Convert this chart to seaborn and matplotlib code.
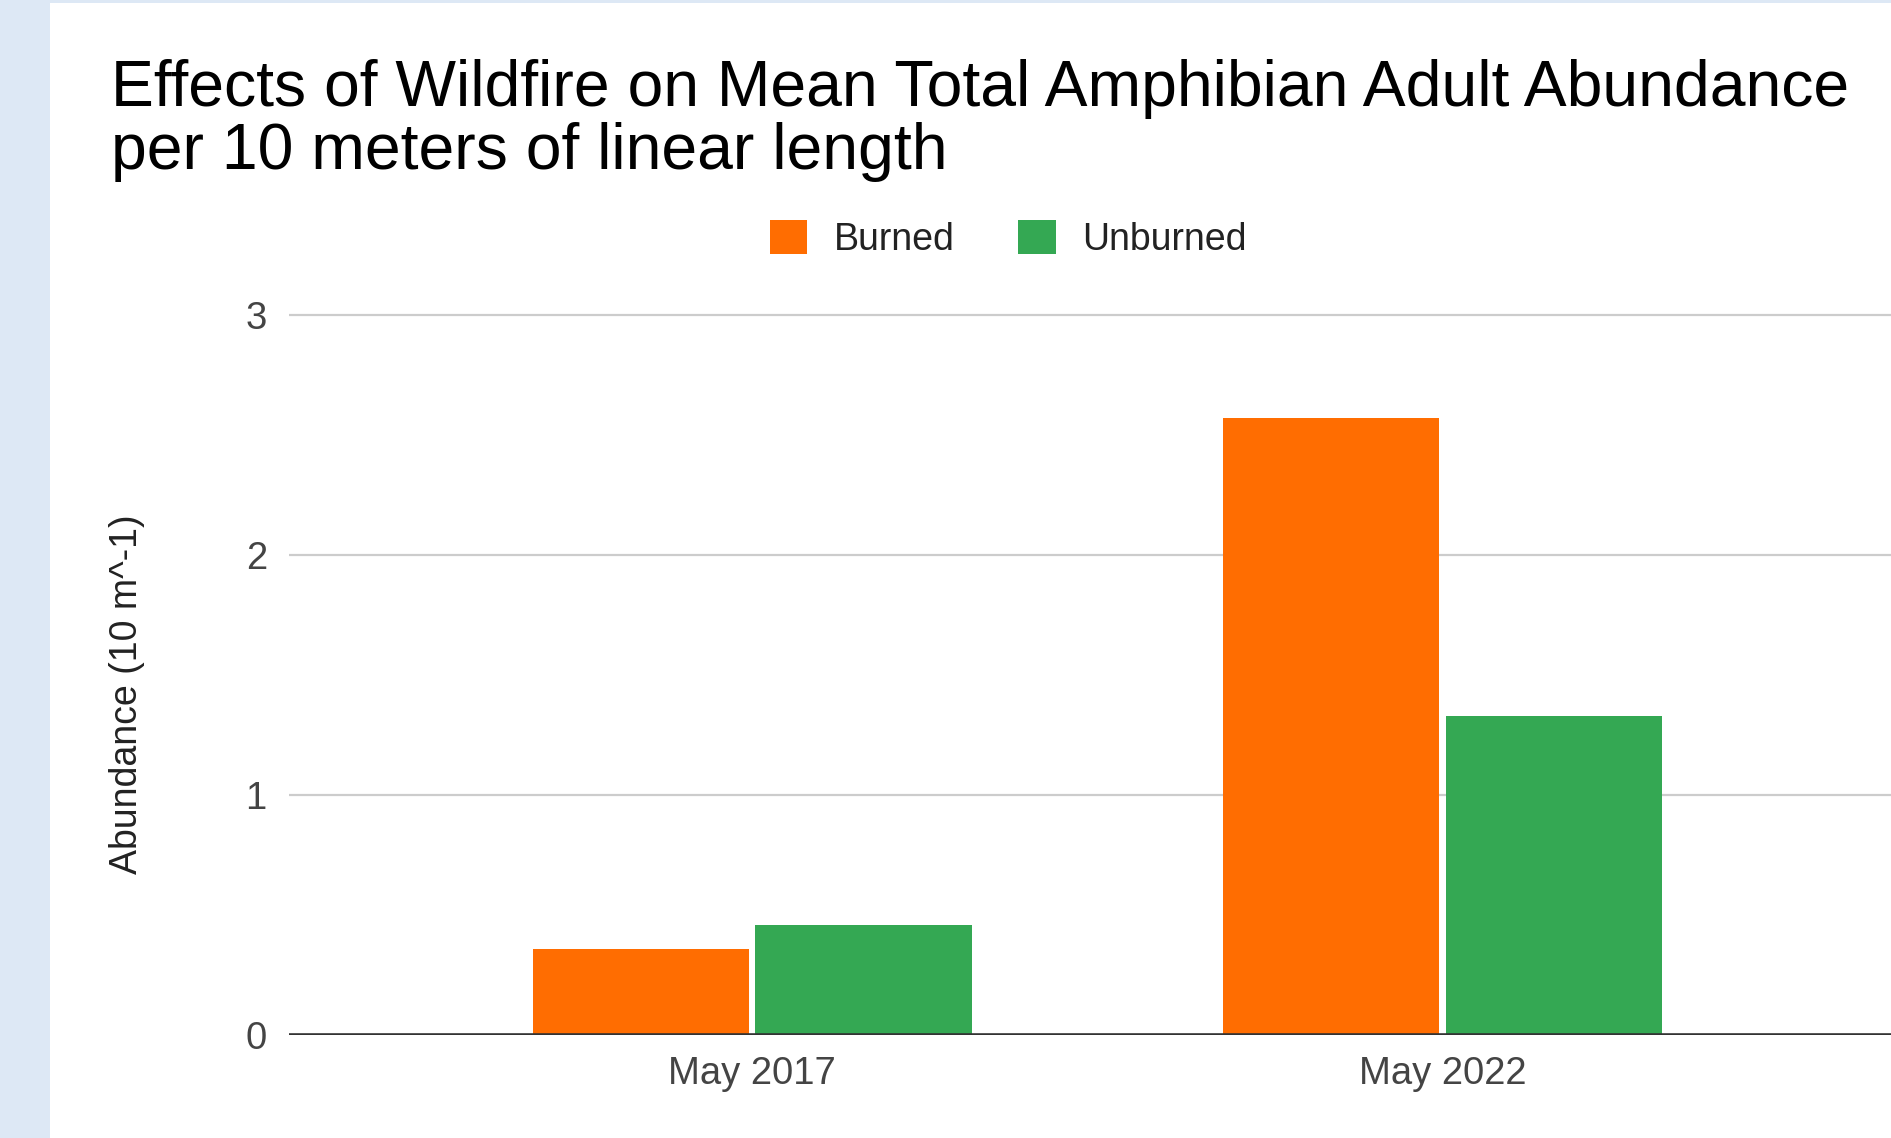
import matplotlib
matplotlib.use("Agg")
import matplotlib.pyplot as plt
import seaborn as sns
import pandas as pd
from matplotlib.patches import Patch, Rectangle

# ---- data ----
periods = ["May 2017", "May 2022"]
series_names = ["Burned", "Unburned"]
burned = [0.36, 2.57]
unburned = [0.46, 1.33]
yticks = [0, 1, 2, 3]
colors = ["#FF6D01", "#34A853"]

title_line1 = "Effects of Wildfire on Mean Total Amphibian Adult Abundance"
title_line2 = "per 10 meters of linear length"
ylabel = "Abundance (10 m^-1)"

df = pd.DataFrame({
    "period": periods * 2,
    "series": [series_names[0]] * len(periods) + [series_names[1]] * len(periods),
    "value": burned + unburned,
})

sns.set_theme(style="white")
plt.rcParams["font.family"] = ["Liberation Sans", "DejaVu Sans"]

W, H = 1891, 1138
fig = plt.figure(figsize=(W / 100, H / 100), dpi=100)
fig.patch.set_facecolor("white")

# page background strips
fig.add_artist(Rectangle((0, 0), 50 / W, 1, transform=fig.transFigure,
                         facecolor="#dde8f5", edgecolor="none", zorder=0))
fig.add_artist(Rectangle((0, 1 - 3 / H), 1, 3 / H, transform=fig.transFigure,
                         facecolor="#dde8f5", edgecolor="none", zorder=0))

ytop = 3.03
ax_left = 289 / W
ax_bottom = (H - 1035) / H
ax_h = 720 * (ytop / 3) / H
ax = fig.add_axes([ax_left, ax_bottom, 1 - ax_left, ax_h])
ax.set_facecolor("white")

sns.barplot(data=df, x="period", y="value", hue="series", order=periods,
            hue_order=series_names, palette=colors, width=0.646, gap=0.03,
            saturation=1, legend=False, ax=ax, zorder=3, linewidth=0)

ax.set_xlim(-0.671, 1.650)
ax.set_ylim(0, ytop)
ax.set_yticks(yticks)
ax.set_yticklabels([str(v) for v in yticks])
for s in ax.spines.values():
    s.set_visible(False)
for v in yticks[1:]:
    ax.axhline(v, color="#cccccc", lw=1.6, zorder=1)
ax.axhline(0, color="#333333", lw=2.6, zorder=4)

ax.tick_params(axis="both", length=0, labelsize=27.5, colors="#444444")
ax.tick_params(axis="y", pad=16)
ax.tick_params(axis="x", pad=15)
ax.set_xlabel("")
ax.set_ylabel("")

fig.text(127 / W, 1 - 694 / H, ylabel, rotation=90, ha="center", va="center",
         fontsize=27, color="#222222")

fig.text(111 / W, 1 - 106 / H, title_line1, ha="left", va="baseline",
         fontsize=46.3, color="#000000")
fig.text(111 / W, 1 - 169 / H, title_line2, ha="left", va="baseline",
         fontsize=46.3, color="#000000")

handles = [Patch(facecolor=c, edgecolor="none", label=n) for c, n in zip(colors, series_names)]
leg = fig.legend(handles=handles, loc="center", bbox_to_anchor=(1008 / W, 1 - 239 / H),
                 ncol=2, frameon=False, fontsize=27, handlelength=1.0, handleheight=1.0,
                 handletextpad=0.7, columnspacing=1.7, borderaxespad=0)
for t in leg.get_texts():
    t.set_color("#222222")

fig.savefig("out.png", dpi=100)
